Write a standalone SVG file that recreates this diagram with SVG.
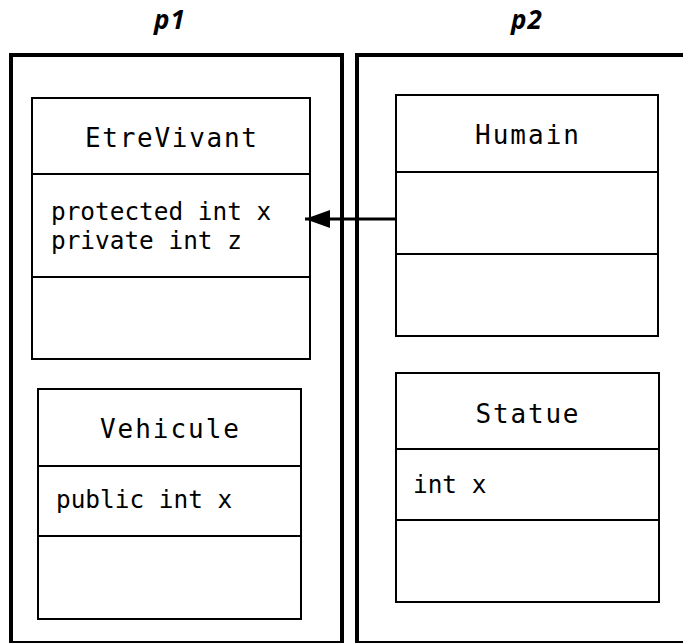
<svg xmlns="http://www.w3.org/2000/svg" width="683" height="643" viewBox="0 0 683 643">
<defs>
<style>
.frame{fill:none;stroke:#000;stroke-width:4}
.box{fill:#fff;stroke:#000;stroke-width:2}
.div{stroke:#000;stroke-width:2}
.pkg{font-family:"Open Sans","DejaVu Sans",sans-serif;font-weight:bold;font-style:italic;font-size:26px;fill:#000;letter-spacing:1px}
.title{font-family:"DejaVu Sans Mono",monospace;font-size:26px;fill:#000;text-anchor:middle}
.mem{font-family:"DejaVu Sans Mono",monospace;font-size:24.4px;fill:#000}
.conn{stroke:#000;stroke-width:3;fill:none}
</style>
<marker id="arrow" markerWidth="26" markerHeight="18" refX="25" refY="9" orient="auto" markerUnits="userSpaceOnUse">
<path d="M0,0 L25,9 L0,18 Z" fill="#000"/>
</marker>
</defs>
<rect width="683" height="643" fill="#fff"/>
<g id="p1">
<rect class="frame" x="11" y="55" width="331" height="588"/>
<text class="pkg" x="170" y="29" text-anchor="middle">p1</text>
</g>
<g id="p2">
<rect class="frame" x="357" y="55" width="340" height="588"/>
<text class="pkg" x="527" y="29" text-anchor="middle">p2</text>
</g>
<g id="EtreVivant">
<rect class="box" x="32" y="98" width="278" height="261"/>
<line class="div" x1="32" y1="174" x2="310" y2="174"/>
<line class="div" x1="32" y1="277" x2="310" y2="277"/>
<text class="title" x="171" y="147" textLength="172" lengthAdjust="spacing">EtreVivant</text>
<text class="mem" x="51" y="220">protected int x</text>
<text class="mem" x="51" y="249">private int z</text>
</g>
<g id="Vehicule">
<rect class="box" x="38" y="389" width="263" height="230"/>
<line class="div" x1="38" y1="466" x2="301" y2="466"/>
<line class="div" x1="38" y1="536" x2="301" y2="536"/>
<text class="title" x="169.5" y="438" textLength="139" lengthAdjust="spacing">Vehicule</text>
<text class="mem" x="56" y="508">public int x</text>
</g>
<g id="Humain">
<rect class="box" x="396" y="95" width="262" height="241"/>
<line class="div" x1="396" y1="172" x2="658" y2="172"/>
<line class="div" x1="396" y1="254" x2="658" y2="254"/>
<text class="title" x="527" y="144" textLength="104" lengthAdjust="spacing">Humain</text>
</g>
<g id="Statue">
<rect class="box" x="396" y="373" width="263" height="229"/>
<line class="div" x1="396" y1="449" x2="659" y2="449"/>
<line class="div" x1="396" y1="520" x2="659" y2="520"/>
<text class="title" x="527" y="423" textLength="103" lengthAdjust="spacing">Statue</text>
<text class="mem" x="413" y="493">int x</text>
</g>
<g id="connectors">
<line class="conn" x1="397" y1="219" x2="305" y2="219" marker-end="url(#arrow)"/>
</g>
</svg>
